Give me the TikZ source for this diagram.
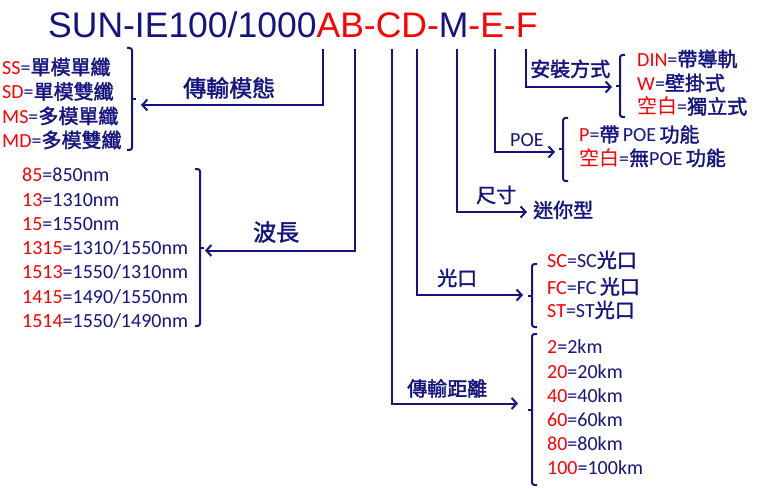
\documentclass[tikz,border=0pt]{standalone}
\usepackage{fontspec}
\usetikzlibrary{arrows.meta}
\setmainfont{Carlito}
\newfontfamily\cjk{Noto Sans CJK TC}[UprightFeatures={FakeBold=1.8}]
\newfontfamily\cjkr{Noto Sans CJK TC}
\newfontfamily\arialf{Liberation Sans}
\definecolor{navy}{RGB}{20,20,128}
\definecolor{myred}{RGB}{255,0,0}
\newcommand\zh[1]{{\cjk #1}}
\newcommand\kb{{\cjkr 空白}}
\newcommand\R[1]{\textcolor{myred}{#1}}
\newcommand\brkR[3]{%
  \draw[brk,rounded corners=2.5pt] (#1+5,#2) -- (#1,#2) -- (#1,#3) -- (#1+5,#3);
  \draw[brk] (#1,{(#2+#3)/2}) -- ++(-4,0);}
\newcommand\brkL[3]{%
  \draw[brk,rounded corners=2.5pt] (#1-5,#2) -- (#1,#2) -- (#1,#3) -- (#1-5,#3);
  \draw[brk] (#1,{(#2+#3)/2}) -- ++(4,0);}
\tikzset{
  conn/.style={draw=navy, line width=2pt},
  arr/.style={conn, -{Straight Barb[length=5pt,width=11pt,line width=2pt]}},
  brk/.style={draw=navy, line width=2pt},
  txt/.style={inner sep=0pt, anchor=west, text=navy},
  lst/.style={txt, font=\fontsize{20}{24}\selectfont, text height=13pt, text depth=0pt},
  lab/.style={txt, font=\fontsize{20}{24}\selectfont\cjk, text height=15pt, text depth=0pt},
  labbig/.style={txt, font=\fontsize{23}{27}\selectfont\cjk, text height=17.5pt, text depth=0pt},
  labl/.style={txt, font=\fontsize{20}{24}\selectfont, text height=13pt, text depth=0pt},
}
\begin{document}
\begin{tikzpicture}[x=1pt,y=-1pt]
\useasboundingbox (0,0) rectangle (759,489);
% title
\node[txt, font=\fontsize{35.5}{40}\selectfont\arialf, text height=25.4pt, text depth=0pt] (title) at (48,24.5)
  {SUN-IE100/1000\R{AB-CD-}M\R{-E-F}};
% line tops
\coordinate (tAB) at (323,49);
\coordinate (tCD) at (355,49);
\coordinate (tC1) at (392,49);
\coordinate (tC2) at (417,49);
\coordinate (tM) at (457,49);
\coordinate (tE) at (495,49);
\coordinate (tF) at (526,49);
% arrow ends
\coordinate (kA) at (141,105);
\coordinate (kB) at (205,250.5);
\coordinate (kF) at (612,87);
\coordinate (kE) at (555,152);
\coordinate (kM) at (527,212);
\coordinate (kP) at (523,295);
\coordinate (kD) at (518,403.5);
% connectors
\draw[arr] (tAB) |- (kA);
\draw[arr] (tCD) |- (kB);
\draw[arr] (tF) |- (kF);
\draw[arr] (tE) |- (kE);
\draw[arr] (tM) |- (kM);
\draw[arr] (tC2) |- (kP);
\draw[arr] (tC1) |- (kD);
% brackets
\brkL{132}{48}{150}
\brkL{200}{169}{326}
\brkR{620}{55}{117}
\brkR{563}{118}{181}
\brkR{532}{264}{327}
\brkR{532}{334}{485}
% labels
\node[labbig] (mode) at (183,88) {傳輸模態};
\node[labbig] (wave) at (253,232) {波長};
\node[lab] (mount) at (530,69) {安裝方式};
\node[labl] (poe) at (510,140) {POE};
\node[lab] (size) at (476,195) {尺寸};
\node[lab] (mini) at (533,210) {迷你型};
\node[lab] (port) at (437,278) {光口};
\node[lab] (dist) at (407,388.5) {傳輸距離};
% mode list
\node[lst] (m1) at (2,68) {\R{SS}=\zh{單模單纖}};
\node[lst] (m2) at (2,92.5) {\R{SD}=\zh{單模雙纖}};
\node[lst] (m3) at (2,117) {\R{MS}=\zh{多模單纖}};
\node[lst] (m4) at (2,141) {\R{MD}=\zh{多模雙纖}};
% wavelength list
\node[lst] (w1) at (22,175) {\R{85}=850nm};
\node[lst] (w2) at (22,199.5) {\R{13}=1310nm};
\node[lst] (w3) at (22,223.5) {\R{15}=1550nm};
\node[lst] (w4) at (22,248) {\R{1315}=1310/1550nm};
\node[lst] (w5) at (22,272) {\R{1513}=1550/1310nm};
\node[lst] (w6) at (22,296.5) {\R{1415}=1490/1550nm};
\node[lst] (w7) at (22,320.5) {\R{1514}=1550/1490nm};
% mount list
\node[lst] (f1) at (637,60) {\R{DIN}=\zh{帶導軌}};
\node[lst] (f2) at (637,84) {\R{W}=\zh{壁掛式}};
\node[lst] (f3) at (637,107.5) {\R{\kb}=\zh{獨立式}};
% poe list
\node[lst] (p1) at (579,135.5) {\R{P}=\zh{帶}\,POE\,\zh{功能}};
\node[lst] (p2) at (579,159) {\R{\kb}=\zh{無}POE\,\zh{功能}};
% port list
\node[lst] (c1) at (547,261) {\R{SC}=SC\zh{光口}};
\node[lst] (c2) at (547,287.5) {\R{FC}=FC\,\zh{光口}};
\node[lst] (c3) at (547,311) {\R{ST}=ST\zh{光口}};
% distance list
\node[lst] (d1) at (547,347) {\R{2}=2km};
\node[lst] (d2) at (547,372) {\R{20}=20km};
\node[lst] (d3) at (547,395.5) {\R{40}=40km};
\node[lst] (d4) at (547,420) {\R{60}=60km};
\node[lst] (d5) at (547,443.5) {\R{80}=80km};
\node[lst] (d6) at (547,468) {\R{100}=100km};
\end{tikzpicture}
\end{document}
